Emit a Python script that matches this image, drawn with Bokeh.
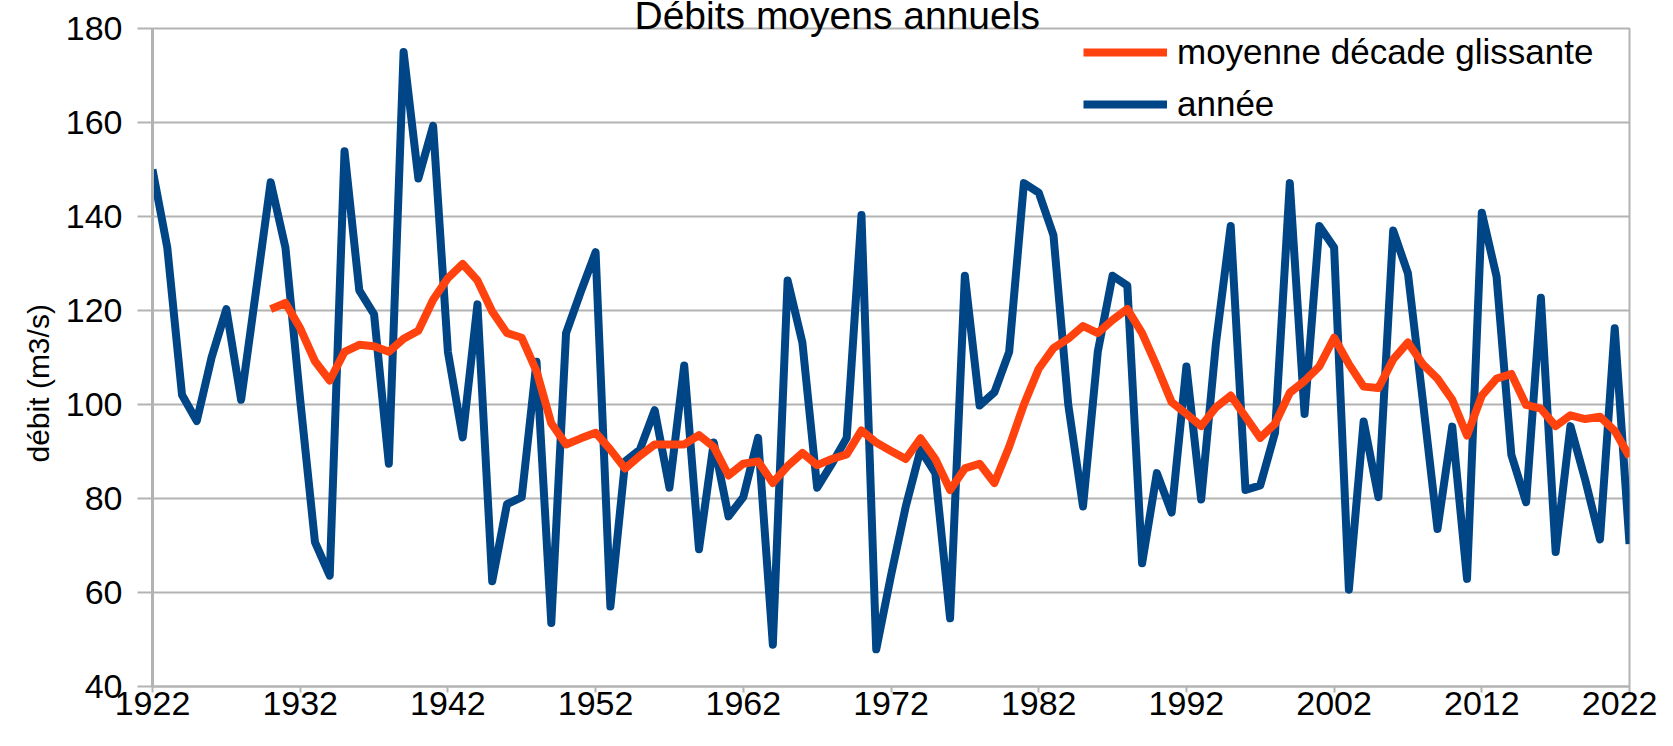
from bokeh.plotting import figure
from bokeh.models import Range1d, FixedTicker, Legend, LegendItem, Title
from bokeh.embed import file_html
from bokeh.resources import INLINE

# ---- data ----
years = list(range(1922, 2023))
annee = [
    150.0, 133.4, 102.0, 96.5, 110.0, 120.3, 101.0, 124.0, 147.3, 133.4,   # 1922-1931
    101.0, 70.7, 63.6, 153.9, 124.3, 119.2, 87.4, 175.0, 148.1, 159.3,     # 1932-1941
    111.2, 93.0, 121.3, 62.4, 78.8, 80.3, 109.1, 53.5, 115.2, 124.0,       # 1942-1951
    132.4, 57.0, 87.9, 90.4, 98.8, 82.3, 108.3, 69.2, 91.9, 76.2,          # 1952-1961
    80.3, 92.9, 48.9, 126.4, 113.2, 82.3, 87.4, 92.9, 140.3, 47.9,         # 1962-1971
    63.6, 78.3, 90.4, 85.4, 54.5, 127.4, 99.8, 102.6, 111.2, 147.1,        # 1972-1981
    145.1, 136.0, 100.0, 78.3, 111.2, 127.4, 125.3, 66.2, 85.4, 77.0,      # 1982-1991
    108.1, 79.8, 113.0, 138.0, 81.8, 82.8, 94.0, 147.1, 98.0, 138.0,       # 1992-2001
    133.4, 60.6, 96.4, 80.3, 137.0, 127.9, 101.0, 73.5, 95.3, 62.9,        # 2002-2011
    140.8, 127.2, 89.3, 79.2, 122.7, 68.6, 95.4, 84.0, 71.3, 116.2,        # 2012-2021
    70.3,                                                                  # 2022
]
years_moy = list(range(1930, 2023))
moyenne = [
    120.3, 121.6, 116.2, 109.2, 105.1, 111.2, 112.7, 112.4, 111.2, 114.0,  # 1930-1939
    115.7, 122.3, 126.9, 129.9, 126.4, 119.8, 115.2, 114.2, 107.1, 96.0,   # 1940-1949
    91.5, 92.8, 94.0, 90.4, 86.4, 89.1, 91.5, 91.5, 91.5, 93.5,            # 1950-1959
    91.0, 84.9, 87.4, 87.9, 83.3, 86.9, 89.7, 87.1, 88.4, 89.4,            # 1960-1969
    94.5, 91.9, 90.1, 88.4, 92.8, 88.4, 81.8, 86.4, 87.4, 83.3,            # 1970-1979
    91.0, 100.0, 107.6, 112.0, 114.0, 116.7, 115.2, 118.0, 120.3, 115.2,   # 1980-1989
    108.1, 100.5, 98.0, 95.4, 99.4, 101.9, 97.4, 92.9, 95.9, 102.5,        # 1990-1999
    105.0, 108.1, 114.2, 108.6, 103.8, 103.5, 109.6, 113.2, 108.6, 105.5,  # 2000-2009
    101.0, 93.4, 101.9, 105.5, 106.5, 99.9, 99.1, 95.4, 97.7, 96.9,        # 2010-2019
    97.4, 94.4, 88.9,                                                      # 2020-2022
]
x_ticks = [1922, 1932, 1942, 1952, 1962, 1972, 1982, 1992, 2002, 2012, 2022]
y_ticks = [40, 60, 80, 100, 120, 140, 160, 180]

title_text = "Débits moyens annuels"
y_label = "débit (m3/s)"
label_moy = "moyenne décade glissante"
label_annee = "année"

# ---- style ----
FONT = "Liberation Sans"
GRID = "#b3b3b3"
BLUE = "#004586"
ORANGE = "#ff420e"

p = figure(width=1657, height=730, output_backend="svg", toolbar_location=None,
           x_range=Range1d(1922, 2022), y_range=Range1d(40, 180),
           min_border_left=152, min_border_right=28, min_border_top=28, min_border_bottom=44)
p.background_fill_color = "white"
p.border_fill_color = "white"
p.outline_line_color = GRID
p.outline_line_width = 2

# grid
p.xgrid.grid_line_color = None
p.ygrid.ticker = FixedTicker(ticks=y_ticks)
p.ygrid.grid_line_color = GRID
p.ygrid.grid_line_width = 2

# x axis
xa = p.xaxis[0]
xa.ticker = FixedTicker(ticks=x_ticks)
xa.axis_line_color = GRID
xa.axis_line_width = 2
xa.major_tick_line_color = GRID
xa.major_tick_line_width = 2
xa.major_tick_out = 6
xa.major_tick_in = 0
xa.minor_tick_line_color = None
xa.major_label_standoff = -1
xa.major_label_text_font = FONT
xa.major_label_text_font_size = "34px"
xa.major_label_text_color = "black"

# y axis
ya = p.yaxis[0]
ya.ticker = FixedTicker(ticks=y_ticks)
ya.axis_line_color = GRID
ya.axis_line_width = 3
ya.major_tick_line_color = GRID
ya.major_tick_line_width = 2
ya.major_tick_out = 15
ya.major_tick_in = 0
ya.minor_tick_line_color = None
ya.major_label_standoff = 15
ya.major_label_text_font = FONT
ya.major_label_text_font_size = "34px"
ya.major_label_text_color = "black"

# series
r_annee = p.line(years, annee, line_color=BLUE, line_width=8, line_join="round")
r_moy = p.line(years_moy, moyenne, line_color=ORANGE, line_width=8, line_join="round")

legend = Legend(items=[LegendItem(label=label_moy, renderers=[r_moy]),
                       LegendItem(label=label_annee, renderers=[r_annee])],
                location=(931, 558))
legend.border_line_color = None
legend.background_fill_alpha = 0.0
legend.padding = 0
legend.margin = 0
legend.spacing = 4
legend.label_height = 48
legend.glyph_height = 48
legend.glyph_width = 84
legend.label_standoff = 10
legend.label_text_font = FONT
legend.label_text_font_size = "35px"
legend.label_text_color = "black"
p.add_layout(legend)

# y axis title, placed a little below the middle of the plot as in the original
ytitle = Title(text=y_label, align="left", offset=224, standoff=16,
               text_font=FONT, text_font_size="30px", text_font_style="normal",
               text_color="black")
p.add_layout(ytitle, "left")

# chart title, pushed up against the top edge as in the original
ctitle = Title(text=title_text, align="left", offset=482, standoff=-20,
               text_font=FONT, text_font_size="39px", text_font_style="normal",
               text_color="black", vertical_align="top")
p.add_layout(ctitle, "above")

open("out.html", "w").write(file_html(p, INLINE))
